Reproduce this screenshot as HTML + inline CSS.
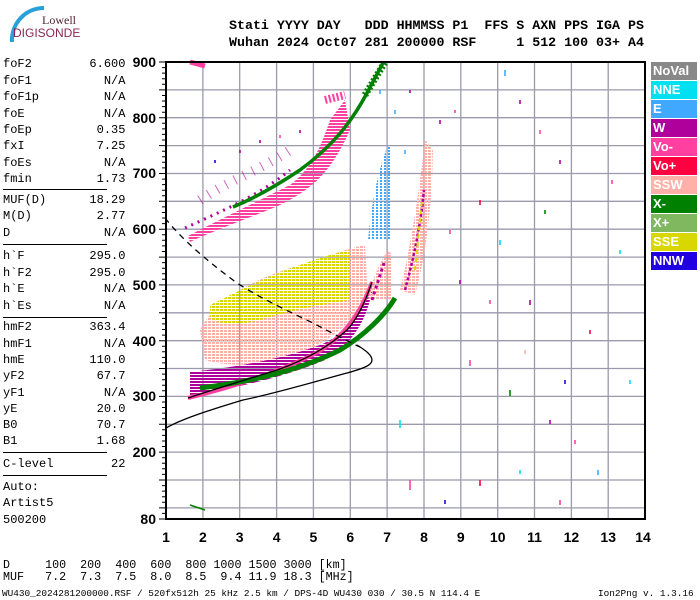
<!DOCTYPE html>
<html><head><meta charset="utf-8"><style>
body{margin:0;background:#fff;width:700px;height:600px;overflow:hidden;position:relative;font-family:"Liberation Mono",monospace}
.t{position:absolute;white-space:pre;font-family:"Liberation Mono",monospace;color:#000}
.l{font-size:12px;left:3px}
.hd{font-size:13.3px;font-weight:bold;left:229px}
.lg{position:absolute;left:651px;width:46px;height:18px;color:#fff;font:bold 13px "Liberation Sans",sans-serif;line-height:18px;padding-left:2px;box-sizing:border-box}
.hr{position:absolute;left:3px;width:104px;height:0;border-top:1.5px solid #000}
</style></head><body>
<svg width="700" height="600" style="position:absolute;left:0;top:0">
<defs>
<pattern id="pS" width="4" height="3" patternUnits="userSpaceOnUse"><rect width="3" height="2" fill="#ffb0a8"/></pattern>
<pattern id="pY" width="4" height="3" patternUnits="userSpaceOnUse"><rect width="3" height="2" fill="#d8d800"/></pattern>
<pattern id="pB" width="4" height="3" patternUnits="userSpaceOnUse"><rect width="2" height="2" fill="#40a8ff"/></pattern>
<pattern id="pP" width="3" height="3" patternUnits="userSpaceOnUse"><rect width="3" height="2" fill="#ff40a0"/></pattern>
<pattern id="pW" width="3" height="3" patternUnits="userSpaceOnUse"><rect width="3" height="2" fill="#b0009c"/></pattern>
</defs>
<path d="M12,42 A32,32 0 0 1 44,8" stroke="#2aa0d8" stroke-width="4" fill="none"/>
<g stroke="#9a9aac" stroke-width="1.3">
<line x1="202.9" y1="62" x2="202.9" y2="519"/><line x1="239.7" y1="62" x2="239.7" y2="519"/><line x1="276.6" y1="62" x2="276.6" y2="519"/><line x1="313.4" y1="62" x2="313.4" y2="519"/><line x1="350.3" y1="62" x2="350.3" y2="519"/><line x1="387.1" y1="62" x2="387.1" y2="519"/><line x1="424" y1="62" x2="424" y2="519"/><line x1="460.8" y1="62" x2="460.8" y2="519"/><line x1="497.7" y1="62" x2="497.7" y2="519"/><line x1="534.5" y1="62" x2="534.5" y2="519"/><line x1="571.4" y1="62" x2="571.4" y2="519"/><line x1="608.2" y1="62" x2="608.2" y2="519"/>
<line x1="166" y1="507.9" x2="645" y2="507.9"/><line x1="166" y1="480" x2="645" y2="480"/><line x1="166" y1="452.1" x2="645" y2="452.1"/><line x1="166" y1="424.3" x2="645" y2="424.3"/><line x1="166" y1="396.4" x2="645" y2="396.4"/><line x1="166" y1="368.5" x2="645" y2="368.5"/><line x1="166" y1="340.7" x2="645" y2="340.7"/><line x1="166" y1="312.8" x2="645" y2="312.8"/><line x1="166" y1="284.9" x2="645" y2="284.9"/><line x1="166" y1="257.1" x2="645" y2="257.1"/><line x1="166" y1="229.2" x2="645" y2="229.2"/><line x1="166" y1="201.3" x2="645" y2="201.3"/><line x1="166" y1="173.5" x2="645" y2="173.5"/><line x1="166" y1="145.6" x2="645" y2="145.6"/><line x1="166" y1="117.7" x2="645" y2="117.7"/><line x1="166" y1="89.9" x2="645" y2="89.9"/>
</g>
<!-- SSW/SSE cloud -->
<path d="M200,330 C215,300 250,280 300,265 C330,255 350,248 365,245 L368,300 C355,320 330,340 300,355 C260,365 230,368 205,360 Z" fill="url(#pS)"/>
<path d="M210,305 C240,290 280,270 330,255 L350,250 L350,300 C320,305 290,310 260,320 C240,325 220,325 210,318 Z" fill="url(#pY)"/>
<!-- magenta W band -->
<path d="M190,372 C230,368 280,360 320,345 C345,335 360,315 368,290 L372,292 C365,325 350,345 325,360 C290,375 240,388 190,395 Z" fill="url(#pW)"/>
<path d="M188,398 C230,388 280,372 318,352 C345,336 362,310 372,282" stroke="#ff40a0" stroke-width="4" fill="none"/>
<!-- green X band -->
<path d="M200,388 C250,382 300,370 340,350 C365,335 385,315 395,298" stroke="#008000" stroke-width="5" fill="none"/>
<!-- second hop -->
<path d="M188,236 C215,222 250,205 290,185 C310,170 320,150 330,120 L345,100 L350,130 C330,175 310,190 280,205 C250,218 215,230 190,242 Z" fill="url(#pP)"/>
<path d="M185,228 C220,212 260,195 290,170" stroke="#b0009c" stroke-width="3" stroke-dasharray="2 5" fill="none"/>
<path d="M200,200 C230,180 260,170 290,150" stroke="#b0009c" stroke-width="10" stroke-dasharray="1 9" fill="none" opacity="0.6"/>
<path d="M233,207 C250,200 270,190 300,170 C330,148 350,125 367,93 L383,63" stroke="#008000" stroke-width="3.5" fill="none"/>
<path d="M365,95 L385,62" stroke="#008000" stroke-width="7" stroke-dasharray="2 2"/>
<!-- blue cluster -->
<path d="M368,240 C372,200 378,170 388,145 L392,150 L392,240 Z" fill="url(#pB)"/>
<path d="M368,300 C372,280 378,265 388,250 L392,255 L392,300 Z" fill="url(#pS)"/>
<path d="M372,300 L385,260" stroke="#b0009c" stroke-width="3" stroke-dasharray="3 3"/>
<!-- right SSW band -->
<path d="M400,290 C410,250 418,200 425,140 L433,150 C432,210 425,260 415,295 Z" fill="url(#pS)"/>
<path d="M405,290 C413,260 420,230 424,190" stroke="#b0009c" stroke-width="2.5" stroke-dasharray="3 2" fill="none"/>
<path d="M415,270 L422,200" stroke="#d8d800" stroke-width="2" stroke-dasharray="4 4"/>
<path d="M190,62 L205,66" stroke="#ff40a0" stroke-width="5"/>
<path d="M325,100 L345,95" stroke="#ff40a0" stroke-width="8" stroke-dasharray="2 2"/>
<g stroke-width="1.6">
<line x1="505" y1="70" x2="505" y2="76" stroke="#40a8ff"/><line x1="520" y1="100" x2="520" y2="104" stroke="#b0009c"/><line x1="540" y1="130" x2="540" y2="134" stroke="#ff40a0"/><line x1="560" y1="160" x2="560" y2="164" stroke="#b0009c"/><line x1="480" y1="200" x2="480" y2="205" stroke="#ff0040"/><line x1="500" y1="240" x2="500" y2="245" stroke="#00e0f0"/><line x1="530" y1="300" x2="530" y2="305" stroke="#b0009c"/><line x1="470" y1="360" x2="470" y2="366" stroke="#ff40a0"/><line x1="510" y1="390" x2="510" y2="396" stroke="#008000"/><line x1="550" y1="420" x2="550" y2="424" stroke="#b0009c"/><line x1="575" y1="440" x2="575" y2="444" stroke="#ff40a0"/><line x1="480" y1="480" x2="480" y2="486" stroke="#ff0040"/><line x1="520" y1="470" x2="520" y2="474" stroke="#00e0f0"/><line x1="560" y1="500" x2="560" y2="505" stroke="#ff40a0"/><line x1="400" y1="420" x2="400" y2="428" stroke="#00e0f0"/><line x1="410" y1="480" x2="410" y2="490" stroke="#ff40a0"/><line x1="445" y1="500" x2="445" y2="504" stroke="#2000e0"/><line x1="598" y1="470" x2="598" y2="475" stroke="#40a8ff"/><line x1="590" y1="330" x2="590" y2="334" stroke="#ff0040"/><line x1="620" y1="250" x2="620" y2="254" stroke="#00e0f0"/><line x1="612" y1="180" x2="612" y2="184" stroke="#ff40a0"/><line x1="630" y1="380" x2="630" y2="384" stroke="#00e0f0"/><line x1="490" y1="300" x2="490" y2="304" stroke="#ff40a0"/><line x1="460" y1="280" x2="460" y2="284" stroke="#b0009c"/><line x1="450" y1="230" x2="450" y2="234" stroke="#ff40a0"/><line x1="545" y1="210" x2="545" y2="214" stroke="#008000"/><line x1="525" y1="350" x2="525" y2="354" stroke="#ffb0a8"/><line x1="565" y1="380" x2="565" y2="384" stroke="#2000e0"/><line x1="190" y1="505" x2="205" y2="510" stroke="#008000"/>
<line x1="395" y1="110" x2="395" y2="114" stroke="#40a8ff"/><line x1="410" y1="90" x2="410" y2="93" stroke="#b0009c"/><line x1="405" y1="150" x2="405" y2="154" stroke="#40a8ff"/><line x1="380" y1="90" x2="380" y2="94" stroke="#40a8ff"/><line x1="240" y1="150" x2="240" y2="153" stroke="#b0009c"/><line x1="260" y1="140" x2="260" y2="143" stroke="#b0009c"/><line x1="280" y1="135" x2="280" y2="138" stroke="#ff40a0"/><line x1="300" y1="130" x2="300" y2="133" stroke="#b0009c"/><line x1="215" y1="160" x2="215" y2="163" stroke="#2000e0"/><line x1="455" y1="110" x2="455" y2="113" stroke="#ff40a0"/><line x1="440" y1="120" x2="440" y2="124" stroke="#b0009c"/>
</g>
<!-- black profile curves -->
<path d="M166,428 C180,420 203,412 243,400 C277,393 310,383 347,373 C365,368 372,365 372,360 C372,355 365,350 357,345" stroke="#000" stroke-width="1.3" fill="none"/>
<path d="M165,218 C180,237 203,258 237,283 C260,298 290,312 313,323 C330,332 345,340 360,347" stroke="#000" stroke-width="1.3" fill="none" stroke-dasharray="6 5"/>
<path d="M188,398 C215,389 245,380 277,370 C300,362 325,350 347,330 C358,318 366,300 372,282" stroke="#000" stroke-width="1.3" fill="none"/>
<rect x="166" y="62" width="479" height="457" fill="none" stroke="#000" stroke-width="2"/>
<g stroke="#000" stroke-width="1">
<path d="M166,62h-7M166,89.9h-7M166,117.7h-7M166,145.6h-7M166,173.5h-7M166,201.3h-7M166,229.2h-7M166,257.1h-7M166,284.9h-7M166,312.8h-7M166,340.7h-7M166,368.5h-7M166,396.4h-7M166,424.3h-7M166,452.1h-7M166,480h-7M166,507.9h-7M166,519h-7"/>
<path d="M166,67.6h-4M166,73.1h-4M166,78.7h-4M166,84.3h-4M166,95.5h-4M166,101h-4M166,106.6h-4M166,112.2h-4M166,123.3h-4M166,128.9h-4M166,134.4h-4M166,140h-4M166,151.2h-4M166,156.8h-4M166,162.3h-4M166,167.9h-4M166,179.1h-4M166,184.6h-4M166,190.2h-4M166,195.7h-4M166,206.9h-4M166,212.5h-4M166,218h-4M166,223.6h-4M166,234.8h-4M166,240.3h-4M166,245.9h-4M166,251.5h-4M166,262.6h-4M166,268.2h-4M166,273.8h-4M166,279.3h-4M166,290.5h-4M166,296.1h-4M166,301.6h-4M166,307.2h-4M166,318.4h-4M166,323.9h-4M166,329.5h-4M166,335.1h-4M166,346.2h-4M166,351.8h-4M166,357.4h-4M166,362.9h-4M166,374.1h-4M166,379.7h-4M166,385.2h-4M166,390.8h-4M166,402h-4M166,407.5h-4M166,413.1h-4M166,418.7h-4M166,429.8h-4M166,435.4h-4M166,441h-4M166,446.5h-4M166,457.7h-4M166,463.3h-4M166,468.8h-4M166,474.4h-4M166,485.6h-4M166,491.1h-4M166,496.7h-4M166,502.3h-4M166,513.4h-4"/>
</g>
<g font-family="Liberation Sans,sans-serif" font-weight="bold" font-size="14" text-anchor="end">
<text x="156" y="67">900</text><text x="156" y="123">800</text><text x="156" y="178">700</text><text x="156" y="234">600</text><text x="156" y="290">500</text><text x="156" y="346">400</text><text x="156" y="401">300</text><text x="156" y="457">200</text><text x="156" y="524">80</text>
</g>
<g font-family="Liberation Sans,sans-serif" font-weight="bold" font-size="14" text-anchor="middle">
<text x="166" y="542">1</text><text x="202.9" y="542">2</text><text x="239.7" y="542">3</text><text x="276.6" y="542">4</text><text x="313.4" y="542">5</text><text x="350.3" y="542">6</text><text x="387.1" y="542">7</text><text x="424" y="542">8</text><text x="460.8" y="542">9</text><text x="497.7" y="542">10</text><text x="534.5" y="542">11</text><text x="571.4" y="542">12</text><text x="608.2" y="542">13</text><text x="643" y="542">14</text>
</g>
<text x="42" y="24" font-family="Liberation Serif,serif" font-size="12" fill="#552233">Lowell</text>
<text x="13" y="37" font-family="Liberation Sans,sans-serif" font-size="12" fill="#8b2550">DIGISONDE</text>
</svg>
<div class="t hd" style="top:18px">Stati YYYY DAY   DDD HHMMSS P1  FFS S AXN PPS IGA PS</div>
<div class="t hd" style="top:35px">Wuhan 2024 Oct07 281 200000 RSF     1 512 100 03+ A4</div>
<div class="t l" style="top:57px">foF2        6.600</div>
<div class="t l" style="top:74px">foF1          N/A</div>
<div class="t l" style="top:90px">foF1p         N/A</div>
<div class="t l" style="top:107px">foE           N/A</div>
<div class="t l" style="top:123px">foEp         0.35</div>
<div class="t l" style="top:139px">fxI          7.25</div>
<div class="t l" style="top:156px">foEs          N/A</div>
<div class="t l" style="top:172px">fmin         1.73</div>
<div class="hr" style="top:189px"></div>
<div class="t l" style="top:193px">MUF(D)      18.29</div>
<div class="t l" style="top:209px">M(D)         2.77</div>
<div class="t l" style="top:226px">D             N/A</div>
<div class="hr" style="top:244px"></div>
<div class="t l" style="top:249px">h`F         295.0</div>
<div class="t l" style="top:266px">h`F2        295.0</div>
<div class="t l" style="top:282px">h`E           N/A</div>
<div class="t l" style="top:299px">h`Es          N/A</div>
<div class="hr" style="top:317px"></div>
<div class="t l" style="top:320px">hmF2        363.4</div>
<div class="t l" style="top:337px">hmF1          N/A</div>
<div class="t l" style="top:353px">hmE         110.0</div>
<div class="t l" style="top:369px">yF2          67.7</div>
<div class="t l" style="top:386px">yF1           N/A</div>
<div class="t l" style="top:402px">yE           20.0</div>
<div class="t l" style="top:418px">B0           70.7</div>
<div class="t l" style="top:434px">B1           1.68</div>
<div class="hr" style="top:452px"></div>
<div class="t l" style="top:457px">C-level        22</div>
<div class="hr" style="top:475px"></div>
<div class="t l" style="top:480px">Auto:</div>
<div class="t l" style="top:496px">Artist5</div>
<div class="t l" style="top:513px">500200</div>
<div class="t" style="top:558px;left:3px;font-size:11.7px">D     100  200  400  600  800 1000 1500 3000 [km]</div>
<div class="t" style="top:570px;left:3px;font-size:11.7px">MUF   7.2  7.3  7.5  8.0  8.5  9.4 11.9 18.3 [MHz]</div>
<div class="t" style="top:588px;left:2px;font-size:9.4px">WU430_2024281200000.RSF / 520fx512h 25 kHz 2.5 km / DPS-4D WU430 030 / 30.5 N 114.4 E</div>
<div class="t" style="top:588px;left:598px;font-size:9.4px">Ion2Png v. 1.3.16</div>
<div class="lg" style="top:62px;background:#888">NoVal</div>
<div class="lg" style="top:81px;background:#00e0f0">NNE</div>
<div class="lg" style="top:100px;background:#40a8ff">E</div>
<div class="lg" style="top:119px;background:#b0009c">W</div>
<div class="lg" style="top:138px;background:#ff40a0">Vo-</div>
<div class="lg" style="top:157px;background:#ff0040">Vo+</div>
<div class="lg" style="top:176px;background:#ffb0a8">SSW</div>
<div class="lg" style="top:195px;background:#008000">X-</div>
<div class="lg" style="top:214px;background:#80b860">X+</div>
<div class="lg" style="top:233px;background:#d8d800">SSE</div>
<div class="lg" style="top:252px;background:#2000e0">NNW</div>
</body></html>
